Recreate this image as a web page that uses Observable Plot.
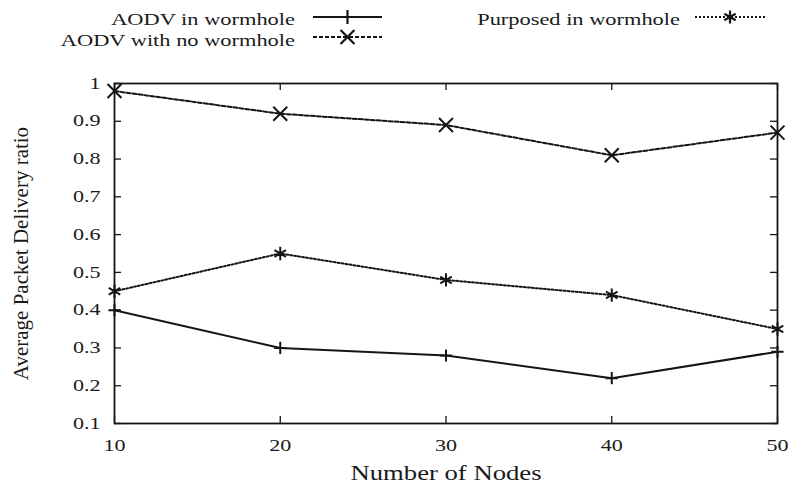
<!DOCTYPE html>
<html>
<head>
<meta charset="utf-8">
<script src="https://cdn.jsdelivr.net/npm/d3@7"></script>
<script src="https://cdn.jsdelivr.net/npm/@observablehq/plot@0.6"></script>
<style>
  html, body { margin: 0; padding: 0; background: #fff; }
  #chart { position: relative; width: 794px; height: 487px; }
  #chart svg { display: block; }
</style>
</head>
<body>
<div id="chart"></div>
<script>
// ---- data ----
const nodes = [10, 20, 30, 40, 50];
const aodvInWormhole = [0.40, 0.30, 0.28, 0.22, 0.29];
const aodvNoWormhole = [0.98, 0.92, 0.89, 0.81, 0.87];
const purposedInWormhole = [0.45, 0.55, 0.48, 0.44, 0.35];
const seriesNames = ["AODV in wormhole", "AODV with no wormhole", "Purposed in wormhole"];
const yTicks = [0.1, 0.2, 0.3, 0.4, 0.5, 0.6, 0.7, 0.8, 0.9, 1];
const xTicks = [10, 20, 30, 40, 50];
const xLabel = "Number of Nodes";
const yLabel = "Average Packet Delivery ratio";

// ---- build table ----
const seriesValues = [aodvInWormhole, aodvNoWormhole, purposedInWormhole];
const rows = [];
seriesNames.forEach((name, i) => {
  nodes.forEach((n, j) => rows.push({series: name, x: n, y: seriesValues[i][j]}));
});

const ink = "#151515";
const textInk = "#1a1a1a";
const serif = "'Liberation Serif', 'Times New Roman', serif";
const styles = {
  "AODV in wormhole": {dash: null, symbol: "plus", r: 4, legendSym: d3.symbolPlus, legendSize: 64},
  "AODV with no wormhole": {dash: "4,2", symbol: "times", r: 6.4, legendSym: d3.symbolTimes, legendSize: 128},
  "Purposed in wormhole": {dash: "2,2", symbol: "asterisk", r: 6.3, legendSym: d3.symbolAsterisk, legendSize: 120}
};

const W = 794, H = 487, mL = 114, mR = 17, mT = 83, mB = 64;
const pw = W - mL - mR, ph = H - mT - mB, tickLen = 7;

const marks = [];
seriesNames.forEach(name => {
  const data = rows.filter(d => d.series === name);
  const s = styles[name];
  marks.push(Plot.line(data, {x: "x", y: "y", stroke: ink, strokeWidth: 2, strokeDasharray: s.dash}));
  marks.push(Plot.dot(data, {x: "x", y: "y", symbol: s.symbol, r: s.r, stroke: ink, strokeWidth: 2}));
});

const chart = Plot.plot({
  width: W, height: H,
  marginLeft: mL, marginRight: mR, marginTop: mT, marginBottom: mB,
  style: {fontFamily: serif, fontSize: "16px", background: "#fff", color: textInk},
  x: {domain: [10, 50]},
  y: {domain: [0.1, 1]},
  marks: [
    // inward ticks (gnuplot style) on all four sides
    Plot.tickY(yTicks, {y: d => d, insetRight: pw - tickLen, stroke: ink, strokeWidth: 1.3}),
    Plot.tickY(yTicks, {y: d => d, insetLeft: pw - tickLen, stroke: ink, strokeWidth: 1.3}),
    Plot.tickX(xTicks, {x: d => d, insetTop: ph - tickLen, stroke: ink, strokeWidth: 1.3}),
    Plot.tickX(xTicks, {x: d => d, insetBottom: ph - tickLen, stroke: ink, strokeWidth: 1.3}),
    Plot.axisY({ticks: yTicks, tickFormat: d => `${d}`, tickSize: 0, tickPadding: 14, fontSize: 16, label: null}),
    Plot.axisX({ticks: xTicks, tickFormat: d => `${d}`, tickSize: 0, tickPadding: 16, fontSize: 16, label: null}),
    ...marks,
    Plot.frame({stroke: ink, strokeWidth: 1.8}),
    Plot.text([xLabel], {frameAnchor: "bottom", textAnchor: "middle", lineAnchor: "middle", text: d => d, dy: 50, fontSize: 21, fill: textInk}),
    Plot.text([yLabel], {frameAnchor: "left", textAnchor: "middle", lineAnchor: "middle", text: d => d, rotate: -90, dx: -93, fontSize: 21, fill: textInk})
  ]
});
const container = document.getElementById("chart");
container.appendChild(chart);

// The reference's lettering is horizontally widened; reproduce by stretching glyphs.
function widen(el, k) {
  const w = el.getComputedTextLength();
  if (w > 0) {
    el.setAttribute("textLength", (w * k).toFixed(1));
    el.setAttribute("lengthAdjust", "spacingAndGlyphs");
  }
}
chart.querySelectorAll("text").forEach(el => {
  const tr = el.getAttribute("transform") || "";
  if (tr.includes("rotate")) return;           // vertical axis title
  if (el.textContent === xLabel) widen(el, 1.27);
  else widen(el, 1.38);                         // tick labels
});

// ---- legend overlay (gnuplot-style key) ----
const legend = d3.create("svg")
  .attr("width", W).attr("height", 60)
  .style("position", "absolute").style("left", "0px").style("top", "0px")
  .style("font-family", serif)
  .style("font-size", "17.5px");
const layout = [
  {textX: 295, baseY: 25, lineX1: 313, lineX2: 382, lineY: 17},
  {textX: 295, baseY: 46, lineX1: 313, lineX2: 382, lineY: 37},
  {textX: 680, baseY: 25, lineX1: 695, lineX2: 765, lineY: 17}
];
const legendTexts = [];
seriesNames.forEach((name, i) => {
  const L = layout[i], s = styles[name];
  legendTexts.push(legend.append("text").attr("x", L.textX).attr("y", L.baseY)
    .attr("text-anchor", "end").attr("fill", textInk).text(name).node());
  legend.append("line").attr("x1", L.lineX1).attr("x2", L.lineX2)
    .attr("y1", L.lineY).attr("y2", L.lineY)
    .attr("stroke", ink).attr("stroke-width", 2)
    .attr("stroke-dasharray", s.dash);
  legend.append("path")
    .attr("transform", `translate(${(L.lineX1 + L.lineX2) / 2},${L.lineY})`)
    .attr("d", d3.symbol(s.legendSym, s.legendSize)())
    .attr("fill", "none").attr("stroke", ink).attr("stroke-width", 2.2);
});
container.appendChild(legend.node());
legendTexts.forEach(el => widen(el, 1.28));
</script>
</body>
</html>
